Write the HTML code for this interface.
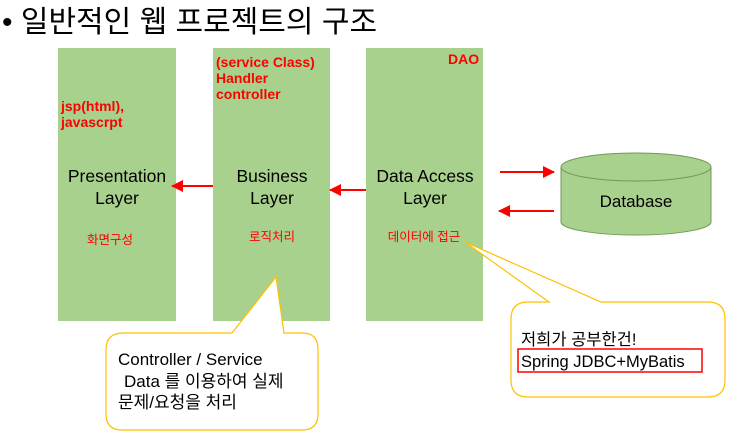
<!DOCTYPE html>
<html><head><meta charset="utf-8">
<style>
html,body{margin:0;padding:0;background:#fff;}
svg{display:block;}
text{font-family:"Liberation Sans","Noto Sans CJK KR",sans-serif;}
</style></head>
<body>
<svg width="740" height="436" viewBox="0 0 740 436" xmlns="http://www.w3.org/2000/svg">
<defs>
<marker id="ah2" markerWidth="12" markerHeight="12" refX="11" refY="6" orient="auto" markerUnits="userSpaceOnUse">
<path d="M0,0 L12,6 L0,12 z" fill="#ff0000"/>
</marker>
</defs>
<text x="2" y="32" font-size="30" fill="#000">• 일반적인 웹 프로젝트의 구조</text>

<rect x="58" y="48" width="118" height="273" fill="#a9d18e"/>
<rect x="213" y="48" width="117" height="273" fill="#a9d18e"/>
<rect x="366" y="48" width="117" height="273" fill="#a9d18e"/>

<g fill="#ff0000" font-weight="bold" font-size="14">
<text x="61" y="111">jsp(html),</text>
<text x="61" y="127">javascrpt</text>
<text x="216" y="67">(service Class)</text>
<text x="216" y="83">Handler</text>
<text x="216" y="99">controller</text>
<text x="448" y="64">DAO</text>
</g>

<g font-size="17.5" fill="#000" text-anchor="middle">
<text x="117" y="182">Presentation</text>
<text x="117" y="204">Layer</text>
<text x="272" y="182">Business</text>
<text x="272" y="204">Layer</text>
<text x="425" y="182">Data Access</text>
<text x="425" y="204">Layer</text>
</g>
<g font-size="12.5" fill="#ff0000" text-anchor="middle">
<text x="110" y="244">화면구성</text>
<text x="272" y="241">로직처리</text>
<text x="424" y="241">데이터에 접근</text>
</g>

<line x1="213" y1="186" x2="172" y2="186" stroke="#ff0000" stroke-width="2" marker-end="url(#ah2)"/>
<line x1="366" y1="190" x2="330" y2="190" stroke="#ff0000" stroke-width="2" marker-end="url(#ah2)"/>
<line x1="500" y1="172" x2="554" y2="172" stroke="#ff0000" stroke-width="2" marker-end="url(#ah2)"/>
<line x1="554" y1="211" x2="499" y2="211" stroke="#ff0000" stroke-width="2" marker-end="url(#ah2)"/>

<path d="M561,167 L561,222 A75,13 0 0 0 711,222 L711,167" fill="#a9d18e" stroke="#6f9a56" stroke-width="1"/>
<ellipse cx="636" cy="167" rx="75" ry="14" fill="#a9d18e" stroke="#6f9a56" stroke-width="1"/>
<text x="636" y="207" font-size="17" text-anchor="middle" fill="#000">Database</text>

<path d="M124,333 L232,333 L276,277 L284,333 L302,333 Q318,333 318,349 L318,414 Q318,430 302,430 L122,430 Q106,430 106,414 L106,349 Q106,333 124,333 z" fill="#fff" stroke="#ffc000" stroke-width="1.2"/>
<g font-size="17" fill="#000">
<text x="118" y="365">Controller / Service</text>
<text x="124" y="387">Data 를 이용하여 실제</text>
<text x="118" y="408">문제/요청을 처리</text>
</g>

<path d="M528,302 L549,302 L465,242 L601,302 L708,302 Q725,302 725,319 L725,380 Q725,397 708,397 L528,397 Q511,397 511,380 L511,319 Q511,302 528,302 z" fill="#fff" stroke="#ffc000" stroke-width="1.2"/>
<g font-size="16.5" fill="#000">
<text x="521" y="345">저희가 공부한건!</text>
<text x="521" y="367">Spring JDBC+MyBatis</text>
</g>
<rect x="518" y="349" width="184" height="23" fill="none" stroke="#ff0000" stroke-width="1.5"/>
</svg>
</body></html>
